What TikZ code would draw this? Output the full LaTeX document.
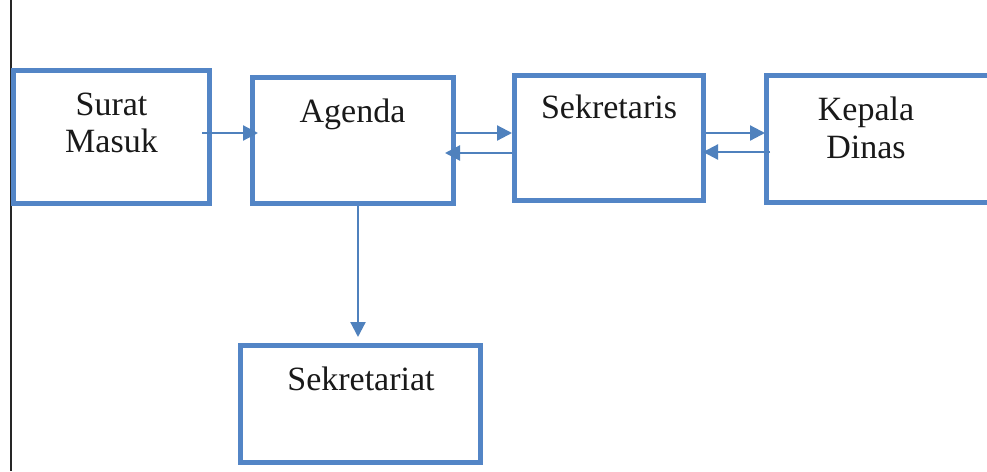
\documentclass[tikz,border=0pt]{standalone}
\usepackage{fontspec}
\setmainfont{Liberation Serif}
\usetikzlibrary{arrows.meta}
\definecolor{boxblue}{RGB}{83,133,198}
\definecolor{arrblue}{RGB}{79,129,189}
\begin{document}
\begin{tikzpicture}[x=1pt,y=-1pt,
  box/.style={draw=boxblue,line width=5pt,rectangle,inner sep=0pt,outer sep=0pt},
  lbl/.style={anchor=base,inner sep=0pt,font=\fontsize{34}{39}\selectfont,text=black!90},
  arr/.style={draw=arrblue,line width=2.2pt,-{Triangle[length=15pt,width=15pt]}}]
\useasboundingbox (0,0) rectangle (987,471);
\clip (0,0) rectangle (987,471);
\fill[white] (0,0) rectangle (987,471);
\draw[line width=1.5pt,black!85] (11,0) -- (11,471);
\node[box,minimum width=196pt,minimum height=133pt] (surat) at (111.5,137) {};
\node[box,minimum width=201pt,minimum height=126pt] (agenda) at (353,140.5) {};
\node[box,minimum width=189pt,minimum height=125pt] (sekr) at (609,138) {};
\node[box,minimum width=234pt,minimum height=127pt] (kepala) at (883.5,139) {};
\node[box,minimum width=240pt,minimum height=117pt] (sekrt) at (360.5,404) {};
\node[lbl] (t1) at (111.5,115) {Surat};
\node[lbl] (t2) at (111.5,152) {Masuk};
\node[lbl] (t3) at (352.5,122) {Agenda};
\node[lbl] (t4) at (609,118) {Sekretaris};
\node[lbl] (t5) at (866,120) {Kepala};
\node[lbl] (t6) at (866,158) {Dinas};
\node[lbl] (t7) at (361,390) {Sekretariat};
\draw[arr] ([xshift=-7.5pt,yshift=4pt]surat.east) -- ([xshift=5.5pt,yshift=7.5pt]agenda.west);
\draw[arr] ([xshift=2pt,yshift=7.5pt]agenda.east) -- ([xshift=-2.5pt,yshift=5pt]sekr.west);
\draw[arr] ([xshift=-2.5pt,yshift=-15pt]sekr.west) -- ([xshift=-8.5pt,yshift=-12.5pt]agenda.east);
\draw[arr] ([xshift=2.5pt,yshift=5pt]sekr.east) -- ([xshift=-1.5pt,yshift=6pt]kepala.west);
\draw[arr] ([xshift=3.5pt,yshift=-13pt]kepala.west) -- ([xshift=-0.5pt,yshift=-14pt]sekr.east);
\draw[arr] ([xshift=5pt,yshift=-2.5pt]agenda.south) -- ([xshift=-2.5pt,yshift=8.5pt]sekrt.north);
\end{tikzpicture}
\end{document}
